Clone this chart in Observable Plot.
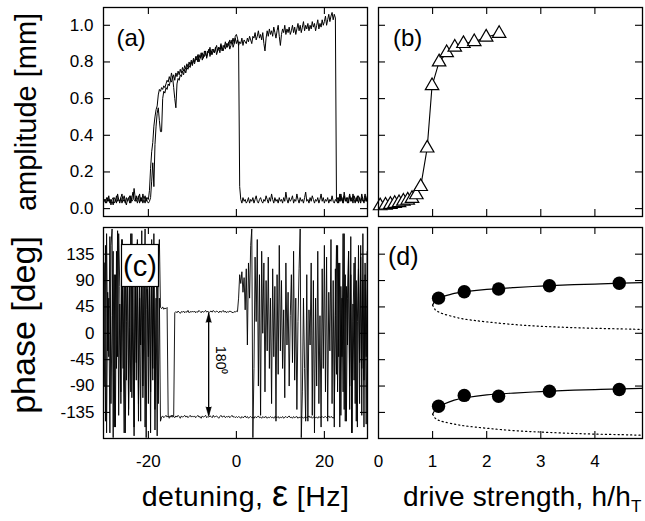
<!DOCTYPE html>
<html>
<head>
<meta charset="utf-8">
<script src="https://cdn.jsdelivr.net/npm/d3@7"></script>
<script src="https://cdn.jsdelivr.net/npm/@observablehq/plot@0.6"></script>
<style>
  body { margin: 0; background: #fff; }
  #fig { position: relative; width: 645px; height: 521px; background: #fff; }
  #fig svg { position: absolute; left: 0; top: 0; }
  #ov { z-index: 5; font-family: "Liberation Sans", Arial, Helvetica, sans-serif; }
</style>
</head>
<body>
<div id="fig">
<svg id="ov" width="645" height="521" viewBox="0 0 645 521">
  <text x="116.5" y="46" font-size="24">(a)</text>
  <text x="393" y="46" font-size="24">(b)</text>
  <rect x="121.5" y="244.5" width="37" height="42" fill="white" stroke="black" stroke-width="1.2"></rect>
  <text x="140" y="276" font-size="29" text-anchor="middle">(c)</text>
  <text x="388" y="265" font-size="25">(d)</text>
  <text transform="translate(36,112) rotate(-90)" font-size="29" text-anchor="middle">amplitude [mm]</text>
  <text transform="translate(35,325) rotate(-90)" font-size="34" text-anchor="middle">phase [deg]</text>
  <text x="141.7" y="506" font-size="28.5" letter-spacing="0.5">detuning, <tspan font-size="36">ε</tspan>  [Hz]</text>
  <text x="403" y="506" font-size="28" letter-spacing="0.2">drive strength, h/h<tspan font-size="17" dy="6">T</tspan></text>
</svg>
</div>
<script>
// ---------- sweep grid (detuning, Hz) ----------
const STEP = 0.25;
const detuning = d3.range(-30, 30 + STEP / 2, STEP);

// ---------- panel (a): amplitude [mm] for the two sweeps ----------
const ampLong = [
  .04,.05,.03,.06,.04,.05,.02,.05,.06,.03, .04,.07,.04,.05,.03,.06,.08,.04,.05,.03,
  .06,.04,.05,.07,.03,.06,.09,.05,.04,.07, .03,.05,.08,.04,.06,.03,.05,.07,.04,.06, .05,
  .10,.22,.31,.36,.45,.50,.54,.56,.62,.65, .64,.66,.65,.67,.66,.68,.70,.69,.72,.70,
  .74,.71,.73,.70,.74,.72,.75,.73,.76,.74, .77,.75,.78,.76,.79,.77,.80,.78,.81,.79,
  .82,.80,.83,.81,.84,.80,.82,.85,.81,.84, .83,.86,.82,.85,.87,.83,.86,.84,.87,.85,
  .88,.84,.86,.88,.85,.89,.87,.86,.89,.87, .90,.88,.91,.87,.89,.92,.88,.90,.93,.90,
  .92,.89,.91,.90,.93,.89,.92,.91,.90,.93, .91,.94,.92,.90,.94,.93,.96,.92,.94,.97,
  .93,.95,.92,.96,.90,.86,.93,.97,.94,.98, .95,.97,.94,.99,.96,.93,.97,1.0,.94,.89,
  .95,.98,.96,1.0,.95,.98,.96,.99,.95,.97, 1.0,.96,.99,.95,.98,1.01,.97,1.0,.96,.99,
  1.02,.97,1.0,.98,1.01,.97,1.0,.98,1.02,.99, 1.01,.97,1.0,1.03,.98,1.01,.99,1.03,1.0,1.02,
  1.05,1.0,1.03,1.06,1.02,1.05,1.07,1.03,1.06,1.04, .05,.03,.06,.04,.08,.05,.03,.07,.04,.06,
  .03,.05,.08,.04,.06,.03,.07,.05,.04,.07, .03,.06,.04,.08,.05,.03,.06,.04,.07,.05
];
const ampShort = [
  .05,.03,.06,.04,.07,.03,.05,.04,.02,.06, .05,.03,.08,.05,.04,.06,.03,.05,.07,.04,
  .02,.05,.06,.03,.07,.04,.05,.11,.06,.04, .05,.07,.03,.06,.04,.08,.05,.03,.06,.04, .03,
  .04,.06,.15,.25,.12,.35,.45,.52,.55,.48, .42,.42,.60,.64,.63,.66,.65,.68,.67,.70,
  .69,.72,.66,.60,.55,.68,.71,.70,.73,.72, .75,.73,.76,.74,.77,.76,.78,.77,.80,.78,
  .81,.79,.82,.83,.80,.84,.82,.83,.85,.82, .86,.84,.83,.86,.85,.88,.84,.87,.86,.85,
  .87,.89,.86,.88,.87,.90,.86,.89,.88,.91, .88,.90,.89,.92,.90,.91,.93,.90,.94,.95,
  .93,.90,.12,.05,.03,.06,.04,.05,.03,.04, .06,.03,.05,.04,.06,.03,.05,.07,.04,.03,
  .05,.06,.04,.03,.05,.04,.07,.05,.03,.06, .04,.08,.05,.03,.06,.04,.05,.03,.06,.04,
  .05,.03,.06,.04,.09,.05,.03,.06,.04,.05, .07,.03,.05,.04,.08,.05,.03,.06,.04,.05,
  .03,.06,.09,.04,.05,.03,.06,.04,.07,.05, .03,.05,.04,.06,.03,.05,.08,.04,.06,.03,
  .05,.04,.06,.03,.05,.04,.07,.04,.03,.05, .04,.06,.03,.08,.04,.06,.03,.09,.05,.04,
  .06,.03,.07,.05,.04,.08,.05,.03,.06,.04, .07,.05,.03,.06,.04,.05,.08,.04,.06,.05
];

// ---------- panel (c): phase [deg] for the two sweeps ----------
const phaseLong = [
  120,-150,170,-30,60,-170,150,178,-178,100, -160,140,-40,170,80,-120,160,-60,130,-170,
  20,150,-140,90,-100,170,-20,-160,110,-80, 155,-120,60,-150,140,-110,30,178,-178,75, -40,
  130,-100,160,-60,90,-165,40,140,-120,60, -150,-143,-141,-144,-142,-140,-143,-141,-145,-142,
  -140,-143,-142,-144,-141,-143,-140,-142,-145,-141, -143,-142,-140,-143,-141,-144,-142,-140,-143,-141,
  -143,-141,-144,-142,-140,-143,-142,-145,-141,-143, -142,-140,-144,-142,-143,-141,-142,-144,-140,-143,
  -142,-141,-143,-145,-142,-140,-143,-142,-141,-144, -142,-143,-141,-144,-142,-140,-143,-142,-144,-142,
  -144,-142,-143,-145,-142,-144,-143,-141,-144,-142, -145,-143,-142,-144,-143,-145,-142,-144,-143,-141,
  -144,-143,-145,-142,-144,-143,-142,-145,-143,-144, -142,-144,-143,-145,-142,-143,-144,-142,-145,-143,
  -144,-142,-145,-143,-142,-144,-143,-141,-144,-143, -145,-142,-144,-143,-142,-145,-143,-144,-142,-143,
  -145,-143,-142,-144,-143,-141,-144,-142,-145,-143, -142,-144,-143,-145,-142,-144,-143,-142,-144,-143,
  -142,-144,-143,-141,-144,-142,-143,-145,-142, 30,150,-100,120,-160,80,-40,170,-130,100,
  -150,60,140,-90,165,-170,20,120,-120,90, -160,150,-50,130,-140,170,-80,100,-155,60, 140
];
const phaseShort = [
  -90,150,-170,70,-40,165,-120,30,140,-160, 100,-60,175,-140,50,-100,160,-20,-170,120,
  -80,145,-130,10,170,-110,80,-175,130,-50, 160,-150,90,-20,175,-90,120,-160,40,150, -120,
  100,-170,150,-80,170,-130,60,-175,120,160, 44,42,45,41,43,42,44,-140,-142,-141,
  -143,-140,-142,35,37,35,38,36,34,37, 36,38,35,37,36,39,35,37,36,38,
  36,38,35,37,36,39,37,35,38,36, 37,39,36,38,35,37,38,36,39,37,
  36,38,37,35,38,36,37,39,36,38, 35,37,36,38,37,36,35,37,36,38,
  37,60,100,85,105,70,95,40,110,-20, 120,60,150,178,-178,-60,130,20,160,-90,
  100,-140,140,0,120,-100,90,-30,130,-60, 60,-120,110,-40,80,-150,100,-70,150,-30,
  90,-60,40,-110,120,-20,70,-90,30,100, -50,140,-80,60,-130,20,110,178,-178,-100,
  60,-60,-150,100,-150,40,-20,120,-140,90, -170,60,-90,140,-120,30,-160,110,-60,150,
  -100,130,-150,70,-30,160,-120,90,-160,110, -70,150,-40,120,-140,60,-100,170,-150,80,
  -20,140,-130,100,-170,50,-80,130,-150,20, 110,-120,150,-60,90,-160,120,-40,140,-110
];
// 180-degree arrow annotation (detuning, phase top, phase bottom)
const arrowAt = [{x: -6.3, top: 34, bottom: -141}];
const arrowLabel = [{x: -3.6, y: -46, text: "180⁰"}];

// ---------- panel (b): amplitude vs drive strength ----------
const driveB = [0.03,0.13,0.22,0.30,0.38,0.46,0.54,0.62,0.70,0.78,0.90,0.99,1.12,1.26,1.41,1.57,1.77,1.99,2.23];
const ampB   = [0.015,0.018,0.022,0.028,0.032,0.040,0.046,0.055,0.075,0.12,0.33,0.67,0.80,0.85,0.88,0.90,0.91,0.935,0.955];

// ---------- panel (d): phase vs drive strength ----------
const driveD = [1.11, 1.585, 2.22, 3.16, 4.45];
const phaseDUpper = [60, 71, 75.5, 81, 85.5];
const phaseDLower = [-124.5, -106, -107.5, -99, -96];
const curveH        = [1.0, 1.05, 1.1, 1.2, 1.4, 1.6, 2.0, 2.5, 3.0, 3.5, 4.0, 4.5, 4.88];
const upperStable   = [48, 56, 60, 63, 68, 71, 75, 78, 80.5, 82.5, 84, 85.5, 86.5];
const upperUnstable = [48, 40, 37, 33, 28, 24, 19.5, 15, 12, 10, 8.5, 7.5, 6.5];
const lowerStable   = [-138, -130, -126, -121, -114, -110, -105, -102, -99.5, -97.5, -96, -95, -94];
const lowerUnstable = [-138, -145, -148, -151, -155, -158, -162, -166, -168.5, -170.5, -172, -173, -174];

// ---------- ticks ----------
const detuningTicks = [-20, 0, 20];
const driveTicks = [1, 2, 3, 4];
const driveLabels = [0, 1, 2, 3, 4];
const ampTicks = [0, 0.2, 0.4, 0.6, 0.8, 1.0];
const phaseTicks = [-135, -90, -45, 0, 45, 90, 135];

// ---------- layout ----------
const W = 645, H = 521;
const boxA = {l: 103, r: 367, t: 7, b: 216};
const boxB = {l: 378, r: 642, t: 7, b: 216};
const boxC = {l: 103, r: 367, t: 227, b: 438};
const boxD = {l: 378, r: 642, t: 227, b: 438};
const detDomain = [-30.2, 29.8];
const driveDomain = [0, 4.88];
const ampDomain = [-0.043, 1.097];
const phaseDomain = [-179.5, 180.5];

const rows = (ys) => detuning.map((x, i) => ({x, y: ys[i]}));

function ticks(box, xt, yt, len = 7) {
  const fw = box.r - box.l, fh = box.b - box.t;
  return [
    Plot.ruleX(xt, {insetTop: fh - len, stroke: "black", strokeWidth: 1.1}),
    Plot.ruleX(xt, {insetBottom: fh - len, stroke: "black", strokeWidth: 1.1}),
    Plot.ruleY(yt, {insetRight: fw - len, stroke: "black", strokeWidth: 1.1}),
    Plot.ruleY(yt, {insetLeft: fw - len, stroke: "black", strokeWidth: 1.1})
  ];
}

function panel(box, x, y, marks) {
  return Plot.plot({
    width: W, height: H,
    marginLeft: box.l, marginRight: W - box.r, marginTop: box.t, marginBottom: H - box.b,
    x, y,
    style: {background: "transparent", fontFamily: "'Liberation Sans', Arial, Helvetica, sans-serif", fontSize: "17px", color: "black", overflow: "visible"},
    marks: [...marks, Plot.frame({stroke: "black", strokeWidth: 1.3})]
  });
}

const fig = document.getElementById("fig");
const ov = document.getElementById("ov");
const add = (el) => fig.insertBefore(el, ov);

// (a)
add(panel(boxA, {domain: detDomain, axis: null}, {domain: ampDomain}, [
  ...ticks(boxA, detuningTicks, ampTicks),
  Plot.axisY(ampTicks, {anchor: "left", tickSize: 0, tickPadding: 10, tickFormat: d => d.toFixed(1), label: null, fontSize: 17}),
  Plot.line(rows(ampShort), {x: "x", y: "y", stroke: "black", strokeWidth: 1, clip: true}),
  Plot.line(rows(ampLong), {x: "x", y: "y", stroke: "black", strokeWidth: 1, clip: true})
]));

// (b)
const bRows = driveB.map((h, i) => ({h, a: ampB[i]}));
add(panel(boxB, {domain: driveDomain, axis: null}, {domain: ampDomain, axis: null}, [
  ...ticks(boxB, driveTicks, ampTicks),
  Plot.line(bRows, {x: "h", y: "a", stroke: "black", strokeWidth: 1.1}),
  Plot.dot(bRows, {x: "h", y: "a", symbol: "triangle", r: 5, fill: "white", stroke: "black", strokeWidth: 1.2})
]));

// (c)
add(panel(boxC, {domain: detDomain}, {domain: phaseDomain}, [
  ...ticks(boxC, detuningTicks, phaseTicks),
  Plot.axisY(phaseTicks, {anchor: "left", tickSize: 0, tickPadding: 9, tickFormat: d => String(d), label: null, fontSize: 17}),
  Plot.axisX(detuningTicks, {anchor: "bottom", tickSize: 0, tickPadding: 16, tickFormat: d => String(d), label: null, fontSize: 17}),
  Plot.line(rows(phaseShort), {x: "x", y: "y", stroke: "black", strokeWidth: 0.9, clip: true}),
  Plot.line(rows(phaseLong), {x: "x", y: "y", stroke: "black", strokeWidth: 0.9, clip: true}),
  Plot.ruleX(arrowAt, {x: "x", y1: "top", y2: "bottom", stroke: "black", strokeWidth: 1.3}),
  Plot.vector(arrowAt, {x: "x", y: "top", rotate: 0, length: 9, shape: "spike", r: 2.6, anchor: "end", fill: "black", fillOpacity: 1, stroke: "black", strokeWidth: 0.6}),
  Plot.vector(arrowAt, {x: "x", y: "bottom", rotate: 180, length: 9, shape: "spike", r: 2.6, anchor: "end", fill: "black", fillOpacity: 1, stroke: "black", strokeWidth: 0.6}),
  Plot.text(arrowLabel, {x: "x", y: "y", text: "text", rotate: 90, fontSize: 14, fill: "black"})
]));

// (d)
const dRows = driveD.flatMap((h, i) => [{h, p: phaseDUpper[i]}, {h, p: phaseDLower[i]}]);
const cRows = curveH.map((h, i) => ({h, us: upperStable[i], uu: upperUnstable[i], ls: lowerStable[i], lu: lowerUnstable[i]}));
add(panel(boxD, {domain: driveDomain}, {domain: phaseDomain, axis: null}, [
  ...ticks(boxD, driveTicks, phaseTicks),
  Plot.axisX(driveLabels, {anchor: "bottom", tickSize: 0, tickPadding: 16, tickFormat: d => String(d), label: null, fontSize: 17}),
  Plot.line(cRows, {x: "h", y: "us", curve: "natural", stroke: "black", strokeWidth: 1.2, clip: true}),
  Plot.line(cRows, {x: "h", y: "ls", curve: "natural", stroke: "black", strokeWidth: 1.2, clip: true}),
  Plot.line(cRows, {x: "h", y: "uu", curve: "natural", stroke: "black", strokeWidth: 1.2, strokeDasharray: "1.2,3", clip: true}),
  Plot.line(cRows, {x: "h", y: "lu", curve: "natural", stroke: "black", strokeWidth: 1.2, strokeDasharray: "1.2,3", clip: true}),
  Plot.dot(dRows, {x: "h", y: "p", r: 6.7, fill: "black"})
]));
</script>
</body>
</html>
